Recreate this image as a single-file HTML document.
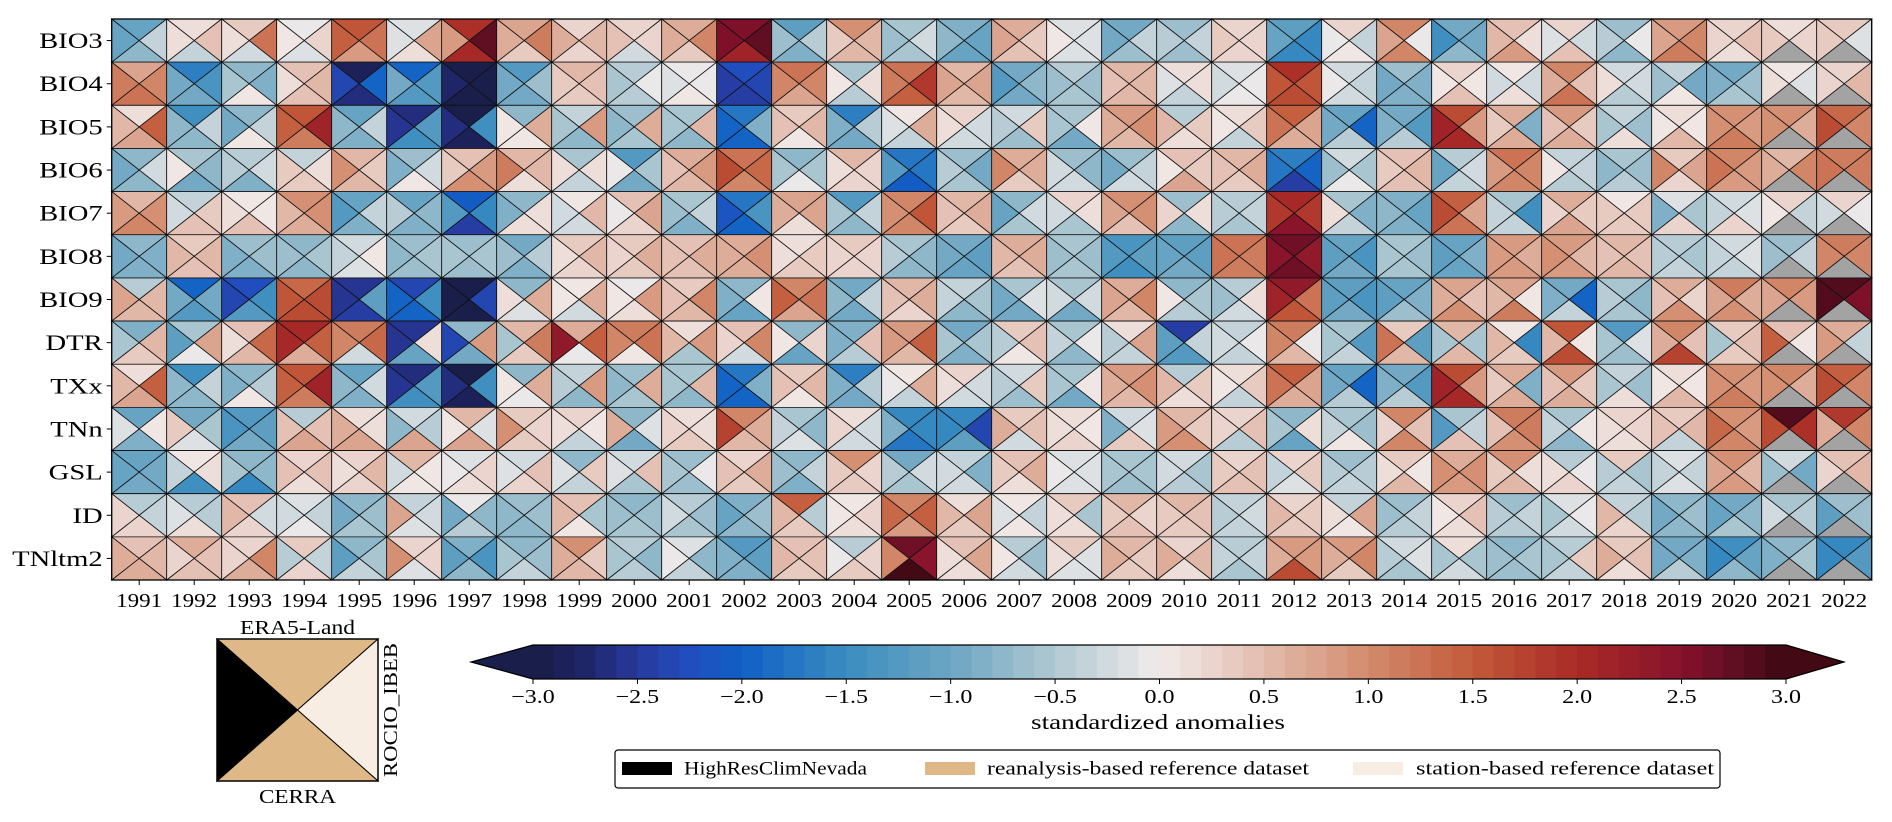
<!DOCTYPE html>
<html><head><meta charset="utf-8"><style>
html,body{margin:0;padding:0;background:#fff;}
svg{display:block;}
text{font-family:"Liberation Serif","DejaVu Serif",serif;fill:#000;}
</style></head><body>
<svg id="fig" width="1892" height="822" viewBox="0 0 1892 822" xmlns="http://www.w3.org/2000/svg">
<g id="cells"></g>
<g id="axes"></g>
<g id="glyph"></g>
<g id="cbar"></g>
<g id="legend"></g>
</svg>
<script>
const indices = ["BIO3","BIO4","BIO5","BIO6","BIO7","BIO8","BIO9","DTR","TXx","TNn","GSL","ID","TNltm2"];
const years = [1991,1992,1993,1994,1995,1996,1997,1998,1999,2000,2001,2002,2003,2004,2005,2006,2007,2008,2009,2010,2011,2012,2013,2014,2015,2016,2017,2018,2019,2020,2021,2022];
const cbarTicks = [-3.0,-2.5,-2.0,-1.5,-1.0,-0.5,0.0,0.5,1.0,1.5,2.0,2.5,3.0];
// top triangle
const era5 = [
[-1.1,0.1,0.3,-0.1,1.5,-0.2,1.9,0.7,0.2,0.2,0.6,2.5,-1.2,0.9,-0.6,-0.9,0.6,-0.2,-1.0,-0.7,0.2,-1.2,0.2,1.0,-1.0,0.4,0.2,-0.7,0.8,0.2,0.1,0.3],
[0.7,-1.7,-0.8,0.4,-2.9,-2.0,-3.0,-1.3,0.5,-0.5,-0.1,-2.3,1.2,-0.6,1.2,0.5,-1.0,-0.5,0.5,0.1,-0.2,1.9,-0.3,-0.7,0.2,0.0,1.0,-0.3,-0.4,-1.0,0.0,0.2],
[0.1,-1.5,-0.8,1.5,-1.1,-2.7,-3.0,-0.8,-0.4,-0.7,-0.6,-1.8,0.3,-1.7,0.0,0.2,-0.3,-0.6,0.8,-0.5,0.1,1.4,-1.1,-1.0,1.6,0.6,0.8,-0.4,0.1,0.9,0.9,1.3],
[-0.8,-0.6,-0.5,-0.4,0.5,-0.7,0.4,0.5,-0.6,-1.3,0.6,1.2,-0.8,0.5,-1.8,-0.7,0.6,-0.7,-0.7,0.4,0.5,-1.7,-0.3,0.4,-0.5,1.2,-0.4,-0.6,0.3,1.0,0.5,1.1],
[0.5,-0.4,0.0,0.9,-1.1,-1.1,-2.1,-0.8,0.0,0.4,-0.6,-1.8,0.7,-1.3,1.0,0.5,-0.8,0.2,0.9,-0.7,-0.5,2.0,-0.6,-0.9,1.4,-0.6,0.6,0.0,-0.2,-0.3,0.2,0.2],
[-0.8,0.3,-0.7,-0.8,-0.3,-0.7,-0.7,-1.0,0.3,0.3,0.4,0.6,0.1,0.3,-0.6,-1.0,0.6,-0.6,-1.4,-1.2,1.2,2.6,-1.1,-0.6,-1.1,0.8,0.8,0.5,-0.5,-0.3,-0.7,1.1],
[-0.5,-2.0,-2.3,1.3,-2.6,-2.4,-3.0,-0.8,0.0,-0.1,0.3,-0.8,1.0,-1.0,0.5,-0.4,-0.6,-0.6,0.6,-0.8,-0.5,2.3,-1.2,-1.1,0.7,0.7,-1.0,-0.6,0.6,1.1,1.0,2.8],
[-0.9,-0.6,0.4,2.0,1.1,-2.6,-0.8,0.5,0.6,1.1,0.1,0.4,-0.8,-0.9,0.8,-1.0,0.3,-0.6,0.1,-2.5,-0.4,1.1,-0.6,0.3,0.5,0.0,1.5,-1.3,1.0,0.3,0.4,0.6],
[0.1,-1.5,-0.8,1.5,-1.1,-2.7,-3.0,-0.8,-0.4,-0.7,-0.6,-1.8,0.3,-1.7,0.0,0.2,-0.3,-0.6,0.8,-0.5,0.1,1.4,-1.1,-1.0,1.6,0.6,0.8,-0.4,0.1,0.9,1.0,1.4],
[-1.1,-1.0,-1.3,-0.5,0.1,-0.3,0.5,0.3,0.2,-0.8,0.1,1.0,-0.6,0.1,-1.6,-1.6,0.3,0.1,-0.3,0.5,0.2,-0.8,-0.6,1.0,-0.6,1.1,-0.6,0.2,0.3,0.9,2.8,1.8],
[-1.1,0.0,-0.8,0.2,0.2,0.5,-0.2,-0.3,-0.8,-0.3,-0.7,0.2,-0.8,0.9,-1.0,-0.4,0.4,-0.2,-0.6,-0.3,0.2,0.2,-0.7,0.3,0.6,0.9,-0.5,0.3,-0.2,0.9,-0.3,0.4],
[-0.5,-0.5,0.4,-0.2,-0.8,-0.4,-0.1,-0.7,0.4,-0.8,-0.5,-0.9,1.4,0.0,1.0,0.1,0.0,0.3,0.5,0.5,-0.4,0.2,-0.4,-0.7,0.2,-0.7,-0.2,-0.4,-0.8,-1.0,-0.6,-0.7],
[0.4,0.6,0.2,0.3,-0.8,0.2,-0.9,-0.8,0.9,-0.5,-0.2,-1.3,0.4,-0.5,2.6,0.4,-0.5,0.3,0.5,0.2,-0.5,0.8,0.8,-0.3,0.1,-0.8,-0.5,0.3,-1.0,-1.5,-0.8,-1.6]
];
// right triangle
const rocio = [
[-0.4,0.4,1.2,0.2,1.2,0.7,2.7,1.1,0.5,0.2,1.0,2.7,-0.5,0.5,-0.3,-1.1,0.3,-0.2,-0.4,-0.4,0.2,-1.6,-0.4,-0.1,-1.0,0.1,-0.3,-0.1,1.0,0.4,0.2,-0.2],
[1.0,-1.4,-0.9,0.5,-2.0,-1.3,-3.0,-0.7,0.4,-0.1,-0.1,-2.4,1.0,0.1,1.8,0.7,-0.8,-0.7,0.5,0.1,-0.1,1.5,-0.4,-0.9,0.0,-0.3,0.4,-0.3,-1.0,-0.7,-0.2,0.5],
[1.4,-0.4,-0.4,2.1,-0.4,-1.3,-1.5,0.6,0.8,0.6,0.5,-0.9,0.5,-0.5,0.6,-0.3,0.3,0.0,0.9,0.3,0.3,0.7,-2.0,-1.3,0.8,-0.9,0.3,-0.7,0.0,0.8,0.6,1.0],
[-0.3,-0.8,-0.3,0.1,0.3,-0.3,0.8,0.5,0.1,-0.6,0.8,1.3,-0.6,0.2,-1.8,-1.0,0.6,-0.8,-0.4,0.3,0.6,-2.0,-0.6,0.5,-0.3,1.0,-0.4,-0.7,0.7,0.8,1.0,1.1],
[0.9,0.3,0.0,0.9,-0.4,-0.8,-1.6,0.1,0.5,0.7,-0.4,-1.4,0.7,-0.4,1.5,0.6,-0.3,0.1,0.9,0.1,-0.4,1.8,-0.9,-1.1,0.7,-1.5,0.3,0.3,-0.6,-0.2,-0.4,-0.1],
[-0.9,0.5,-0.7,-0.6,0.0,-0.6,-0.6,-0.5,0.5,0.6,0.6,0.9,0.3,0.2,-0.8,-1.2,0.6,-0.7,-1.2,-1.2,1.1,2.3,-1.4,-0.7,-0.9,0.6,0.5,0.4,-0.6,-0.2,-0.4,1.0],
[0.5,-1.0,-1.5,1.6,-1.2,-1.5,-2.4,0.6,0.6,0.8,1.0,0.0,1.2,-0.4,0.6,-0.6,-0.2,-0.3,1.0,-0.6,0.1,1.2,-1.4,-0.9,0.4,0.0,-2.0,-0.8,0.2,0.6,0.8,2.5],
[0.5,0.7,1.3,1.4,1.3,0.1,0.8,1.1,1.4,1.2,0.8,1.0,0.2,0.4,1.4,-0.6,0.4,-0.1,0.7,-0.4,-0.1,-0.1,-1.3,-1.2,-0.6,-1.6,0.0,-0.2,0.4,0.4,0.0,-0.4],
[1.4,-0.4,-0.5,2.1,-0.3,-1.3,-1.5,0.6,0.8,0.6,0.5,-0.9,0.5,-0.5,0.6,-0.3,0.3,0.0,0.9,0.3,0.3,0.7,-2.0,-1.3,0.8,-0.9,0.3,-0.7,0.0,0.8,0.6,1.0],
[0.0,-0.6,-1.2,0.4,0.1,-0.5,-0.2,0.2,0.0,-0.2,0.1,0.6,-0.8,-0.3,-1.6,-2.4,0.4,0.0,-0.2,0.3,0.4,0.1,-0.7,0.4,-0.4,1.1,0.0,0.2,0.5,0.8,1.9,1.0],
[-1.0,0.1,-0.8,0.4,0.5,0.0,0.2,0.4,0.3,0.4,-0.1,0.6,-0.4,0.2,-0.3,-0.9,0.6,-0.2,-0.6,-0.6,0.4,0.3,-0.5,0.0,0.9,0.1,-0.1,-0.6,-0.4,0.5,-1.0,0.5],
[-0.4,-0.5,-0.3,-0.4,-0.7,-0.3,-0.8,-0.7,-0.6,-0.7,-0.7,-0.7,-0.5,0.2,1.4,0.7,-0.4,-0.6,0.2,0.4,-0.3,0.3,0.7,-0.4,0.4,-0.4,-0.1,-0.5,-0.7,-0.8,-0.5,-0.7],
[0.5,0.4,1.0,-0.4,-0.6,0.2,-1.4,-0.7,0.3,-0.8,-0.8,-1.2,0.4,0.2,2.4,0.7,-0.7,-0.2,0.3,0.5,-0.4,0.8,1.0,-0.2,-0.6,-0.6,0.3,0.4,-0.9,-1.1,-0.6,-1.3]
];
// bottom triangle (null = missing)
const cerra = [
[-0.8,-0.4,-0.3,-0.2,0.8,0.1,2.0,0.3,0.2,-0.3,0.3,2.1,-0.9,0.5,-0.6,-1.1,0.4,-0.2,-0.7,-0.7,0.2,-1.6,0.0,1.0,-0.8,0.8,0.4,-0.8,1.1,0.1,null,null],
[1.2,-1.0,0.0,0.4,-2.7,-1.3,-3.0,-1.0,0.3,-0.5,0.0,-2.5,0.7,-0.5,1.4,0.5,-1.0,-0.6,0.5,-0.4,-0.1,1.6,-0.3,-0.9,0.4,0.1,1.2,-0.5,0.0,-0.6,null,null],
[0.7,-0.8,0.0,1.1,-0.9,-1.5,-2.9,0.0,-0.8,-0.6,-0.8,-2.0,0.0,-1.0,-0.4,-0.3,-0.7,-1.0,0.5,0.1,-0.4,0.6,-0.5,-0.5,2.0,0.6,0.6,0.1,0.5,1.1,null,null],
[-0.8,-1.0,-0.9,0.3,0.5,0.0,0.9,0.1,-0.4,-1.0,0.5,1.0,-0.1,0.2,-2.1,-0.6,0.3,-0.3,-0.3,0.7,0.3,-2.5,-0.1,0.4,-0.4,1.0,-0.5,-0.5,0.2,0.8,null,null],
[1.0,0.4,0.4,0.6,-0.9,-0.9,-2.5,0.1,-0.3,0.2,-0.9,-2.0,0.1,-0.8,1.0,0.3,-0.6,-0.6,0.4,-0.8,-0.6,2.4,-0.4,-0.9,1.2,-0.4,0.7,0.3,0.2,0.2,null,null],
[-0.9,0.4,-0.9,-0.8,-0.2,-0.7,-0.7,-0.9,0.2,0.3,0.4,0.6,0.3,0.2,-0.8,-1.1,0.4,-0.6,-1.5,-1.0,1.1,2.6,-1.0,-0.6,-1.1,0.8,0.8,0.5,-0.4,-0.4,null,null],
[0.5,-1.3,-1.3,1.6,-2.5,-2.0,-3.0,-0.2,-0.3,0.1,0.5,-1.1,0.7,-1.0,0.2,-0.8,-1.0,-1.0,0.5,-0.5,-0.3,1.5,-1.0,-0.7,0.9,1.1,-0.4,-0.6,0.9,0.9,null,null],
[0.3,-0.1,0.5,0.6,-0.3,-1.1,-1.0,0.3,-0.1,0.0,-0.6,-0.3,-1.1,-0.5,0.5,-0.9,0.0,-0.8,-0.4,-1.3,-0.4,0.5,-0.4,0.5,0.5,0.3,1.6,-0.7,1.7,0.3,null,null],
[0.7,-0.8,0.0,1.1,-0.9,-1.5,-2.9,-0.1,-0.8,-0.6,-0.8,-2.0,0.0,-1.0,-0.4,-0.3,-0.7,-1.0,0.5,0.1,-0.4,0.6,-0.5,-0.5,2.0,0.6,0.6,0.1,0.5,1.1,null,null],
[-0.9,-0.2,-1.0,0.7,0.7,0.7,0.7,0.3,-0.4,-1.0,0.3,0.5,-0.2,-0.3,-1.8,-1.2,-0.3,0.2,0.3,0.9,-0.5,-1.1,0.0,1.0,0.4,0.9,-0.8,0.1,-0.4,1.0,null,null],
[-1.0,-1.5,-1.6,0.1,0.2,0.0,0.1,0.2,-0.4,-0.6,-0.7,0.3,-0.9,0.3,-0.6,-0.3,0.1,-0.2,-0.7,-0.5,0.4,-0.2,-0.4,0.5,0.8,0.5,0.2,-0.4,-0.2,0.8,null,null],
[0.2,0.1,0.2,-0.1,-0.6,-0.2,-0.5,-0.8,0.0,-0.6,-0.6,-0.8,0.3,0.1,0.8,0.3,0.0,0.1,0.4,0.3,-0.4,0.3,0.0,-0.5,0.1,-0.5,-0.3,0.2,-0.8,-0.6,null,null],
[0.6,0.4,0.6,0.2,-0.4,-0.2,-0.8,-0.4,0.5,-0.5,-0.4,-0.9,0.3,0.3,2.9,0.1,-0.3,-0.2,0.3,0.1,-0.6,1.6,0.3,-0.6,-0.3,-0.7,-0.4,0.1,-0.5,-0.8,null,null]
];
// left triangle
const hrcn = [
[-1.1,0.1,0.1,0.0,1.4,-0.2,0.8,0.6,0.6,0.4,0.6,2.5,-0.7,0.3,-0.7,-0.8,0.7,0.0,-1.0,-0.5,0.3,-1.1,-0.1,0.7,-1.5,0.5,-0.2,-0.5,0.7,0.2,0.3,0.3],
[1.1,-1.0,-0.6,0.1,-2.4,-1.0,-2.8,-1.0,0.3,-0.6,-0.2,-2.5,1.0,0.0,1.1,0.7,-1.3,-0.7,0.4,-0.2,-0.3,1.5,-0.1,-1.0,0.0,-0.3,0.6,0.1,-0.7,-0.9,0.1,0.2],
[0.5,-0.8,-1.0,1.4,-0.8,-2.6,-2.7,0.0,-0.6,-0.8,-0.6,-2.0,0.4,-0.9,-0.2,0.1,-0.5,-0.6,0.6,0.5,0.0,1.2,-1.0,-0.9,2.1,0.3,0.4,-0.6,0.0,0.9,0.9,1.6],
[-1.0,0.0,-0.5,0.3,0.9,-0.9,0.3,1.1,0.1,-0.1,0.4,1.6,-0.6,0.1,-1.3,-0.5,1.0,-0.3,-1.0,0.0,0.4,-1.8,-0.7,0.3,-1.1,0.8,0.0,-0.8,1.0,1.2,0.6,1.2],
[0.8,-0.3,0.1,0.5,-1.3,-0.5,-1.3,-0.9,-0.3,-0.1,-0.7,-2.2,0.6,-0.6,0.9,0.4,-1.1,-0.3,0.7,0.2,-0.5,1.8,0.1,-0.8,1.6,-0.4,0.2,0.3,-0.9,-0.4,0.0,-0.3],
[-1.0,0.5,-0.9,-0.7,-0.4,-0.8,-0.6,-0.7,0.1,0.2,0.4,0.6,0.1,0.2,-0.5,-1.0,0.5,-0.7,-1.3,-1.1,1.2,2.4,-1.2,-0.6,-1.2,0.8,0.9,0.4,-0.5,-0.4,-0.7,1.0],
[0.7,-1.0,-2.4,1.5,-2.6,-2.0,-3.0,0.1,0.0,0.0,0.4,-0.9,1.4,-0.8,0.4,-0.4,-1.0,-0.3,0.7,0.0,-0.7,2.1,-1.2,-1.2,0.6,0.5,-0.9,-0.5,0.4,0.7,0.7,2.8],
[-0.6,-1.2,0.1,2.0,1.0,-2.6,-2.4,-0.6,2.3,1.0,0.5,0.2,0.0,-0.9,0.8,-0.6,-0.5,-0.4,-0.5,-1.2,-0.3,1.0,-0.6,1.2,-0.6,0.5,0.5,-0.6,0.6,-0.6,1.4,0.8],
[0.5,-0.8,-0.9,1.4,-0.8,-2.6,-2.7,0.0,-0.5,-0.8,-0.6,-2.0,0.4,-0.9,-0.1,0.1,-0.5,-0.6,0.6,0.5,0.0,1.2,-1.0,-0.9,2.1,0.3,0.4,-0.6,0.0,0.9,0.9,1.6],
[-0.2,0.3,-1.4,0.4,0.6,-0.8,0.0,0.9,0.1,0.6,0.2,1.7,-0.4,0.2,-0.9,-1.6,0.6,0.1,-0.9,0.8,0.2,-0.6,-0.4,0.2,-1.3,0.4,-0.4,0.1,0.4,1.3,1.6,0.6],
[-1.1,-0.4,-0.6,0.4,0.1,-0.3,-0.1,-0.2,-0.2,-0.2,-0.6,0.4,-0.7,0.3,-0.5,-0.3,0.3,-0.1,-0.6,-0.3,0.3,-0.4,-0.5,0.1,0.9,0.3,0.1,-0.5,-0.4,0.7,-0.7,0.2],
[0.2,-0.2,0.5,-0.3,-1.0,0.7,-1.0,-0.8,0.5,-0.7,-0.3,-1.1,0.5,0.0,1.3,0.5,-0.2,0.1,0.3,0.3,-0.5,0.5,0.1,-0.7,0.0,-0.5,-0.6,0.5,-1.0,-1.1,-0.3,-1.2],
[0.6,0.2,0.2,-0.5,-1.2,0.9,-1.2,-0.6,0.6,-0.6,-0.1,-0.9,0.5,-0.1,1.0,0.1,0.0,0.1,0.6,0.6,-0.4,0.6,0.6,-0.5,-0.6,-0.7,-0.6,0.6,-1.0,-1.6,-0.9,-1.6]
];

const NS = "http://www.w3.org/2000/svg";
const X0 = 111.7, X1 = 1871.7, Y0 = 19, Y1 = 580;
const CW = (X1 - X0) / years.length, RH = (Y1 - Y0) / indices.length;
const VMIN = -3, VMAX = 3, STEP = 0.1;
function xScale(i){ return X0 + i * CW; }
function yScale(j){ return Y0 + j * RH; }

const anchors = [
 [-3.0,[24,28,67]],[-2.75,[30,38,104]],[-2.5,[40,57,156]],[-2.25,[32,78,190]],[-2.0,[16,96,198]],
 [-1.5,[58,140,192]],[-1.0,[108,166,194]],[-0.5,[176,200,210]],[0.0,[241,236,235]],
 [0.5,[226,188,174]],[1.0,[211,139,109]],[1.5,[194,90,58]],[2.0,[170,42,38]],[2.5,[133,18,43]],[2.75,[96,14,34]],[3.0,[60,9,18]]
];
function interp(v){
  if (v <= anchors[0][0]) return anchors[0][1];
  for (let k = 1; k < anchors.length; k++){
    if (v <= anchors[k][0]){
      const a = anchors[k-1], b = anchors[k];
      const t = (v - a[0]) / (b[0] - a[0]);
      return a[1].map((c, m) => Math.round(c + t * (b[1][m] - c)));
    }
  }
  return anchors[anchors.length-1][1];
}
function color(v){
  if (v === null || v === undefined) return "#a3a3a3";
  let bin = Math.floor((v - VMIN) / STEP + 1e-9);
  bin = Math.max(0, Math.min(Math.round((VMAX - VMIN) / STEP) - 1, bin));
  const c = interp(VMIN + (bin + 0.5) * STEP);
  return "rgb(" + c.join(",") + ")";
}
function mk(tag, attrs, parent){
  const e = document.createElementNS(NS, tag);
  for (const k in attrs) e.setAttribute(k, attrs[k]);
  parent.appendChild(e);
  return e;
}
function stretch(t, f){
  const w = t.getComputedTextLength();
  if (w > 0){ t.setAttribute("textLength", (w * f).toFixed(1)); t.setAttribute("lengthAdjust", "spacingAndGlyphs"); }
}
function fixLen(t, w){
  t.setAttribute("textLength", w); t.setAttribute("lengthAdjust", "spacingAndGlyphs");
}

// cells
const gCells = document.getElementById("cells");
const parts = [["top", era5], ["right", rocio], ["bottom", cerra], ["left", hrcn]];
indices.forEach((ind, j) => {
  years.forEach((yr, i) => {
    const xa = xScale(i), xb = xScale(i + 1), ya = yScale(j), yb = yScale(j + 1);
    const cx = (xa + xb) / 2, cy = (ya + yb) / 2;
    const pts = {
      top: [[xa,ya],[xb,ya],[cx,cy]],
      right: [[xb,ya],[xb,yb],[cx,cy]],
      bottom: [[xa,yb],[xb,yb],[cx,cy]],
      left: [[xa,ya],[xa,yb],[cx,cy]]
    };
    parts.forEach(([pos, arr]) => {
      const p = mk("polygon", {points: pts[pos].map(q => q[0].toFixed(2) + "," + q[1].toFixed(2)).join(" "), fill: color(arr[j][i]), stroke: "#111", "stroke-width": "0.8"}, gCells);
      
      
    });
  });
});

// axes
const gAx = document.getElementById("axes");
const frame = mk("rect", {x: X0, y: Y0, width: X1 - X0, height: Y1 - Y0, fill: "none", stroke: "#000", "stroke-width": "1.3"}, gAx);


indices.forEach((ind, j) => {
  const cy = yScale(j + 0.5);
  const tk = mk("line", {x1: X0 - 5, x2: X0, y1: cy, y2: cy, stroke: "#000", "stroke-width": "1"}, gAx);
  
  
  const t = mk("text", {x: X0 - 9, y: cy, "text-anchor": "end", "dominant-baseline": "central", "font-size": "22"}, gAx);
  t.textContent = ind;
  
  
  stretch(t, 1.3);
});
years.forEach((yr, i) => {
  const cx = xScale(i + 0.5);
  const tk = mk("line", {x1: cx, x2: cx, y1: Y1, y2: Y1 + 5, stroke: "#000", "stroke-width": "1"}, gAx);
  
  
  const t = mk("text", {x: cx, y: 601, "text-anchor": "middle", "dominant-baseline": "central", "font-size": "20"}, gAx);
  t.textContent = yr;
  
  
  stretch(t, 1.15);
});

// position legend glyph
const gG = document.getElementById("glyph");
const GX0 = 217, GX1 = 378, GY0 = 639, GY1 = 781, GCX = (GX0 + GX1) / 2, GCY = (GY0 + GY1) / 2;
[
 ["glyph-top-era5", [[GX0,GY0],[GX1,GY0],[GCX,GCY]], "#deb887"],
 ["glyph-right-rocio", [[GX1,GY0],[GX1,GY1],[GCX,GCY]], "#f8ede3"],
 ["glyph-bottom-cerra", [[GX0,GY1],[GX1,GY1],[GCX,GCY]], "#deb887"],
 ["glyph-left-highresclimnevada", [[GX0,GY0],[GX0,GY1],[GCX,GCY]], "#000000"]
].forEach(([nm, pts, fc]) => {
  const p = mk("polygon", {points: pts.map(q => q.join(",")).join(" "), fill: fc, stroke: "#000", "stroke-width": "1"}, gG);
  
  
});
const gf = mk("rect", {x: GX0, y: GY0, width: GX1 - GX0, height: GY1 - GY0, fill: "none", stroke: "#000", "stroke-width": "1.5"}, gG);


const l1 = mk("text", {x: GCX, y: 628, "text-anchor": "middle", "dominant-baseline": "central", "font-size": "20"}, gG);
l1.textContent = "ERA5-Land";


fixLen(l1, 115);
const l2 = mk("text", {x: GCX, y: 797, "text-anchor": "middle", "dominant-baseline": "central", "font-size": "20"}, gG);
l2.textContent = "CERRA";


fixLen(l2, 77);
const l3 = mk("text", {x: 0, y: 0, "text-anchor": "middle", "dominant-baseline": "central", "font-size": "20", transform: "translate(391," + GCY + ") rotate(-90)"}, gG);
l3.textContent = "ROCIO_IBEB";


fixLen(l3, 134);

// colorbar
const gC = document.getElementById("cbar");
const CB0 = 533, CB1 = 1786, CBY0 = 645, CBY1 = 679, CBM = (CBY0 + CBY1) / 2;
function cbX(v){ return CB0 + (v - VMIN) / (VMAX - VMIN) * (CB1 - CB0); }
const nb = Math.round((VMAX - VMIN) / STEP);
for (let k = 0; k < nb; k++){
  const v0 = VMIN + k * STEP;
  const r = mk("rect", {x: cbX(v0), y: CBY0, width: cbX(v0 + STEP) - cbX(v0) + 0.5, height: CBY1 - CBY0, fill: color(v0 + STEP / 2)}, gC);
  
  
}
const tl = mk("polygon", {points: CB0 + "," + CBY0 + " 471," + CBM + " " + CB0 + "," + CBY1, fill: color(-10)}, gC);


const tr = mk("polygon", {points: CB1 + "," + CBY0 + " 1844," + CBM + " " + CB1 + "," + CBY1, fill: color(10)}, gC);


const co = mk("polygon", {points: CB0 + "," + CBY0 + " " + CB1 + "," + CBY0 + " 1844," + CBM + " " + CB1 + "," + CBY1 + " " + CB0 + "," + CBY1 + " 471," + CBM, fill: "none", stroke: "#000", "stroke-width": "1.2"}, gC);


cbarTicks.forEach(v => {
  const x = cbX(v);
  const tk = mk("line", {x1: x, x2: x, y1: CBY1, y2: CBY1 + 5, stroke: "#000", "stroke-width": "1"}, gC);
  
  
  const t = mk("text", {x: x, y: 697, "text-anchor": "middle", "dominant-baseline": "central", "font-size": "20"}, gC);
  t.textContent = (v < 0 ? "\u2212" : "") + Math.abs(v).toFixed(1);
  
  
  stretch(t, 1.2);
});
const cl = mk("text", {x: 1158, y: 722, "text-anchor": "middle", "dominant-baseline": "central", "font-size": "21"}, gC);
cl.textContent = "standardized anomalies";


fixLen(cl, 254);

// dataset-type legend
const gL = document.getElementById("legend");
const lb = mk("rect", {x: 615, y: 750, width: 1105, height: 38, rx: 3, fill: "#fff", stroke: "#000", "stroke-width": "1.2"}, gL);


[
 ["legend-entry-highresclimnevada", 622, "#000000", 684, "HighResClimNevada", 183],
 ["legend-entry-reanalysis", 925, "#deb887", 987, "reanalysis-based reference dataset", 322],
 ["legend-entry-station", 1353, "#f8ede3", 1416, "station-based reference dataset", 298]
].forEach(([nm, px, fc, tx, label, w]) => {
  const g = mk("g", {}, gL);
  
  
  const p = mk("rect", {x: px, y: 762, width: 50, height: 13, fill: fc}, g);
  
  
  const t = mk("text", {x: tx, y: 769, "dominant-baseline": "central", "font-size": "19"}, g);
  t.textContent = label;
  
  
  fixLen(t, w);
});
</script>
</body></html>
